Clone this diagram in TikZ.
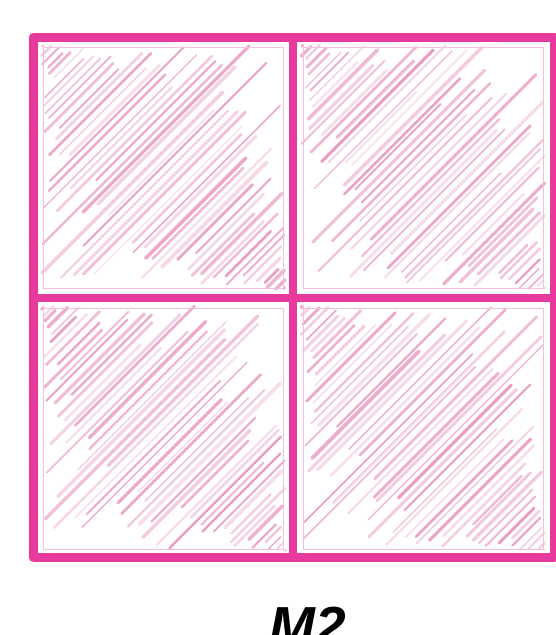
\documentclass[tikz,border=0pt]{standalone}
\usepackage{fontspec}
\setsansfont{Liberation Sans}
\begin{document}
\begin{tikzpicture}[x=1pt,y=-1pt]
\definecolor{framepink}{RGB}{232,58,156}
\definecolor{hatchpink}{RGB}{222,100,160}
\tikzset{
  frameline/.style={draw=framepink, line width=9pt, line cap=round, line join=round},
  gridline/.style={draw=framepink, line width=8pt, line cap=round},
  sketchline/.style={draw=hatchpink!40, line width=0.6pt},
}
\useasboundingbox (0,0) rectangle (556,635);
\fill[white] (0,0) rectangle (556,635);
\pgfmathsetseed{11}
\foreach \xo/\yo in {33/37, 293/37, 33/298, 293/298}{
  \begin{scope}
    \clip (\xo+5,\yo+5) rectangle ++(250,251);
    \foreach \k in {0,...,54}{
      \pgfmathsetmacro{\c}{\xo+\yo+16+\k*9+4*rnd}
      \pgfmathsetmacro{\xa}{max(\xo+8,\c-(\yo+252))}
      \pgfmathsetmacro{\xb}{min(\xo+252,\c-(\yo+8))}
      \pgfmathsetmacro{\len}{\xb-\xa}
      \pgfmathsetmacro{\xs}{\xa+rnd*0.3*\len}
      \pgfmathsetmacro{\xe}{\xb-rnd*0.3*\len}
      \pgfmathsetmacro{\ys}{\c-\xs}
      \pgfmathsetmacro{\ye}{\c-\xe}
      \pgfmathsetmacro{\op}{0.2+0.45*rnd}
      \pgfmathsetmacro{\lw}{1.2+2.4*rnd}
      \draw[hatchpink, line width=\lw pt, opacity=\op, line cap=round]
        (\xs,\ys) -- (\xe,\ye);
    }
  \end{scope}
  \draw[sketchline] (\xo+10,\yo+10) rectangle ++(240,241);
}
\draw[frameline] (33,37) rectangle (554,557);
\draw[gridline] (293,37) -- (293,557);
\draw[gridline] (33,298) -- (554,298);
\node[font=\sffamily\bfseries\itshape\fontsize{55}{60}\selectfont, anchor=base, inner sep=0pt]
  (label) at (308,645) {M2};
\end{tikzpicture}
\end{document}
